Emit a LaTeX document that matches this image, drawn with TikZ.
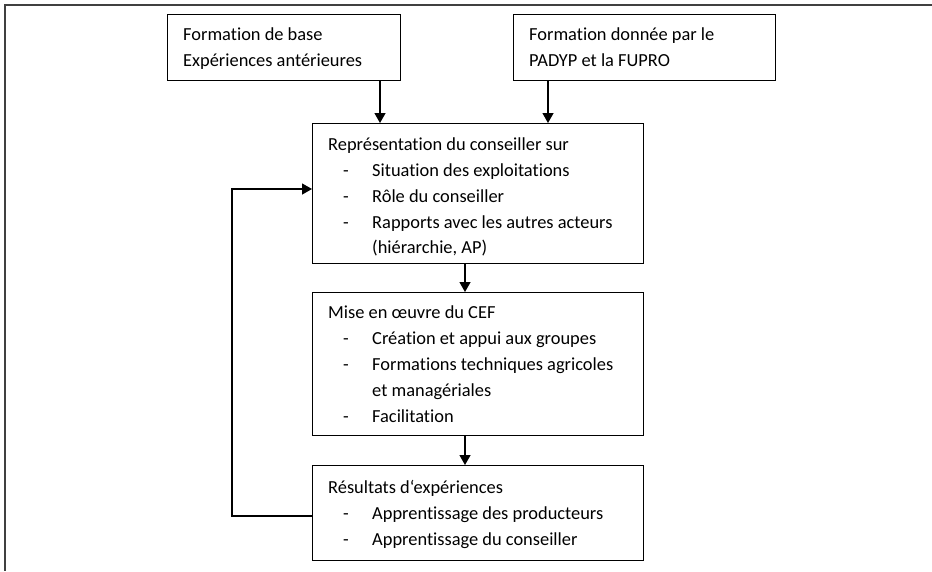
\documentclass[tikz,border=0pt]{standalone}
\usepackage{fontspec}
\setmainfont[RawFeature=-liga]{Carlito}
\usetikzlibrary{arrows.meta,calc}
\tikzset{
  boxst/.style={draw, line width=1.3pt, inner sep=0pt, anchor=north west},
  txt/.style={anchor=base west, inner sep=0pt, font=\fontsize{18.4}{22}\selectfont},
  arr/.style={line width=1.3pt, -{Triangle[length=10pt,width=11pt]}},
  ln/.style={line width=1.3pt}
}
\begin{document}
\begin{tikzpicture}[x=1pt,y=-1pt]
\useasboundingbox (0,0) rectangle (932,571);
% outer frame (top and left)
\coordinate (ftr) at (932,5);
\coordinate (ftl) at (5,5);
\coordinate (fbl) at (5,571);
\draw[line width=1.5pt, black!75] (ftr) -- (ftl) -- (fbl);
% boxes
\node[boxst, minimum width=233pt, minimum height=66pt] (b1) at (167,14) {};
\node[boxst, minimum width=262pt, minimum height=66pt] (b2) at (513,14) {};
\node[boxst, minimum width=331pt, minimum height=140pt] (b3) at (312,123) {};
\node[boxst, minimum width=331pt, minimum height=143pt] (b4) at (312,292) {};
\node[boxst, minimum width=331pt, minimum height=95pt] (b5) at (312,465) {};
% texts
\node[txt] (t11) at (183,40) {Formation de base};
\node[txt] (t12) at (183,66) {Expériences antérieures};
\node[txt] (t21) at (529,40) {Formation donnée par le};
\node[txt] (t22) at (529,66) {PADYP et la FUPRO};
\node[txt] (t31) at (328,150) {Représentation du conseiller sur};
\node[txt] (d32) at (343,176) {-};
\node[txt] (t32) at (372,176) {Situation des exploitations};
\node[txt] (d33) at (343,202) {-};
\node[txt] (t33) at (372,202) {Rôle du conseiller};
\node[txt] (d34) at (343,228) {-};
\node[txt] (t34) at (372,228) {Rapports avec les autres acteurs};
\node[txt] (t35) at (372,253) {(hiérarchie, AP)};
\node[txt] (t41) at (328,318) {Mise en œuvre du CEF};
\node[txt] (d42) at (343,344) {-};
\node[txt] (t42) at (372,344) {Création et appui aux groupes};
\node[txt] (d43) at (343,370) {-};
\node[txt] (t43) at (372,370) {Formations techniques agricoles};
\node[txt] (t44) at (372,396) {et managériales};
\node[txt] (d45) at (343,422) {-};
\node[txt] (t45) at (372,422) {Facilitation};
\node[txt] (t51) at (328,493) {Résultats d‘expériences};
\node[txt] (d52) at (343,519) {-};
\node[txt] (t52) at (372,519) {Apprentissage des producteurs};
\node[txt] (d53) at (343,545) {-};
\node[txt] (t53) at (372,545) {Apprentissage du conseiller};
% arrows
\draw[arr] (b1.south -| 380,0) -- (b3.north -| 380,0);
\draw[arr] (b2.south -| 548,0) -- (b3.north -| 548,0);
\draw[arr] (b3.south -| 465,0) -- (b4.north -| 465,0);
\draw[arr] (b4.south -| 465,0) -- (b5.north -| 465,0);
% feedback loop
\coordinate (fb1) at (232,516);
\coordinate (fb2) at (232,189);
\draw[arr] (b5.west |- fb1) -- (fb1) -- (fb2) -- (b3.west |- fb2);
\end{tikzpicture}
\end{document}
